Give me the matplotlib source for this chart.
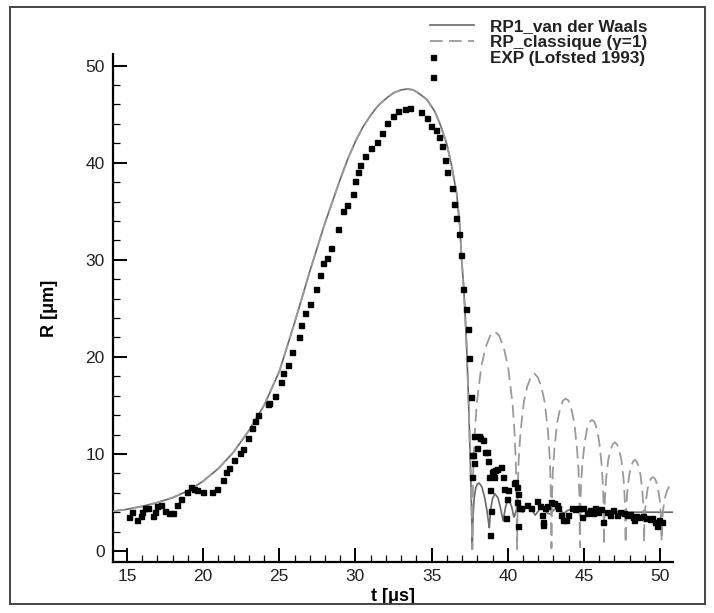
import matplotlib
matplotlib.use("Agg")
import matplotlib.pyplot as plt
from matplotlib.patches import Rectangle
from matplotlib.ticker import MultipleLocator
from matplotlib.legend_handler import HandlerLine2D
import numpy as np

plt.rcParams['font.family'] = ['Liberation Sans', 'DejaVu Sans']

# ---- RP1_van der Waals (solid) ----
vdw_t = [14.08, 15.0, 16.0, 17.0, 18.0, 19.0, 20.0, 21.0, 22.0, 23.0, 24.0, 25.0, 26.0, 27.0,
         28.0, 29.0, 29.5, 30.0, 30.5, 31.0, 31.5, 32.0, 32.5, 33.0, 33.4, 33.8, 34.2, 34.7,
         35.2, 35.6, 36.0, 36.3, 36.65, 36.85, 36.98, 37.1, 37.19, 37.3, 37.41, 37.5, 37.57,
         37.63, 37.67,
         37.72, 37.8, 37.9, 38.0, 38.13, 38.3, 38.5, 38.65, 38.75, 38.79, 38.83, 38.9, 39.0,
         39.16, 39.35, 39.5, 39.62, 39.7, 39.75, 39.85, 39.95, 40.1, 40.25, 40.4, 40.45,
         40.55, 40.7, 40.85, 41.0, 41.2, 41.4, 41.6, 41.8, 42.0, 42.2, 42.4, 42.6, 42.8,
         43.0, 43.2, 43.45, 43.7, 43.95, 44.2, 44.5, 44.8, 45.1, 45.5, 46.0, 47.0, 48.0,
         49.0, 50.0, 50.83]
vdw_r = [4.1, 4.3, 4.6, 5.0, 5.5, 6.2, 7.2, 8.5, 10.2, 12.4, 15.0, 18.5, 23.5, 28.8,
         33.8, 38.3, 40.4, 42.2, 43.7, 44.9, 45.9, 46.6, 47.2, 47.5, 47.6, 47.5, 47.1, 46.5,
         45.3, 43.8, 41.9, 39.8, 36.8, 33.5, 29.9, 27.3, 24.8, 21.0, 16.2, 11.5, 7.6,
         4.0, 0.2,
         3.5, 5.5, 6.5, 6.9, 7.0, 6.6, 5.4, 4.0, 2.8, 2.4, 3.3, 4.5, 5.4,
         5.9, 5.5, 4.6, 3.7, 3.1, 3.6, 4.5, 5.0, 5.2, 4.6, 3.5, 3.6,
         4.2, 4.6, 4.5, 4.0, 4.6, 4.7, 4.2, 3.7, 4.1, 4.5, 4.4, 3.9, 3.8,
         4.2, 4.4, 4.1, 3.9, 4.2, 4.3, 4.0, 4.0, 4.2, 4.1, 4.05, 4.05, 4.0,
         4.0, 4.0, 4.0]

# ---- RP_classique (gamma=1) (dashed), rebounds after first collapse ----
cls_t = [37.67, 37.73, 37.82, 37.96, 38.26, 38.55, 38.85, 39.14, 39.43, 39.73, 40.02, 40.32, 40.46, 40.55, 40.61,
         40.66, 40.72, 40.84, 41.06, 41.29, 41.51, 41.74, 41.97, 42.19, 42.42, 42.64, 42.76, 42.82, 42.87,
         42.91, 42.96, 43.06, 43.24, 43.43, 43.62, 43.81, 43.99, 44.18, 44.37, 44.55, 44.65, 44.70, 44.74,
         44.77, 44.82, 44.90, 45.06, 45.21, 45.37, 45.53, 45.69, 45.85, 46.00, 46.16, 46.24, 46.29, 46.32,
         46.35, 46.39, 46.46, 46.60, 46.75, 46.89, 47.03, 47.17, 47.31, 47.46, 47.60, 47.67, 47.71, 47.74,
         47.76, 47.80, 47.86, 47.98, 48.10, 48.22, 48.35, 48.47, 48.59, 48.71, 48.83, 48.89, 48.93, 48.95,
         48.97, 49.01, 49.07, 49.18, 49.30, 49.41, 49.53, 49.64, 49.76, 49.87, 49.99, 50.04, 50.08, 50.10,
         50.12, 50.16, 50.22, 50.34, 50.46, 50.58, 50.70, 50.83]
cls_r = [0.2, 8.1, 11.8, 15.1, 19.0, 21.0, 22.2, 22.6, 22.2, 21.0, 19.0, 15.1, 11.8, 8.1, 0.2,
         6.6, 9.5, 12.3, 15.4, 17.0, 17.9, 18.3, 17.9, 17.0, 15.4, 12.3, 9.5, 6.6, 0.3,
         5.7, 8.2, 10.5, 13.2, 14.6, 15.5, 15.7, 15.5, 14.6, 13.2, 10.5, 8.2, 5.7, 0.4,
         4.9, 7.0, 9.0, 11.3, 12.6, 13.3, 13.5, 13.3, 12.6, 11.3, 9.0, 7.0, 4.9, 0.6,
         4.0, 5.8, 7.5, 9.4, 10.4, 11.0, 11.2, 11.0, 10.4, 9.4, 7.5, 5.8, 4.0, 0.8,
         3.4, 4.9, 6.3, 7.9, 8.7, 9.2, 9.4, 9.2, 8.7, 7.9, 6.3, 4.9, 3.4, 0.9,
         2.7, 4.0, 5.1, 6.4, 7.1, 7.5, 7.6, 7.5, 7.1, 6.4, 5.1, 4.0, 2.7, 1.0,
         2.4, 3.5, 4.5, 5.6, 6.2, 6.6, 6.7, 6.6]

# ---- EXP (Lofsted 1993) ----
exp_t = [15.15, 15.3, 15.68, 15.9, 16.0, 16.2, 16.4, 16.7, 16.84, 17.0, 17.2, 17.5, 17.78, 18.0,
         18.26, 18.52, 18.92, 19.18, 19.4, 19.62, 20.0, 20.6, 20.93, 21.28, 21.5, 21.72, 22.05,
         22.42, 22.6, 22.97, 23.19, 23.4, 23.62, 24.24, 24.35, 24.72, 25.09, 25.22, 25.55, 25.86,
         26.29, 26.43, 26.71, 27.0, 27.41, 27.67, 27.85, 28.11, 28.39, 28.88, 29.2, 29.42, 29.82,
         29.97, 30.19, 30.3, 30.63, 31.0, 31.39, 31.72, 32.09, 32.49, 32.81, 33.25, 33.58, 34.28,
         34.68, 34.96, 35.11, 35.29, 35.51, 35.66, 35.88, 36.03, 36.36, 36.49, 36.58, 36.8, 36.93,
         37.08, 37.26, 37.37, 37.46, 37.59, 37.63, 37.66,
         37.72, 37.8, 37.8, 37.96, 38.13, 38.18, 38.4, 38.5, 38.62, 38.72, 38.79, 38.84, 38.88,
         38.85, 38.94, 39.01, 39.1, 39.16, 39.27, 39.54, 39.71, 39.75, 39.93, 39.89, 40.04, 40.41,
         40.48, 40.59, 40.59, 40.7, 40.7, 40.76, 40.9, 41.28, 41.55, 41.9, 42.12, 42.23, 42.3,
         42.34, 42.45, 42.56, 42.82, 43.04, 43.26, 43.32, 43.48, 43.6, 43.83, 43.98, 44.2, 44.42,
         44.6, 44.85, 44.96, 45.22, 45.4, 45.57, 45.72, 45.94, 46.1, 46.27, 46.5, 46.72, 46.93,
         47.15, 47.37, 47.63, 47.85, 48.05, 48.2, 48.28, 48.45, 48.64, 48.86, 49.1, 49.33, 49.5,
         49.67, 49.78, 49.95, 50.1]
exp_r = [3.5, 4.0, 3.2, 3.6, 4.0, 4.4, 4.4, 3.6, 4.0, 4.6, 4.7, 4.1, 3.9, 3.9,
         4.7, 5.4, 6.1, 6.6, 6.4, 6.3, 6.1, 6.1, 6.4, 7.3, 8.1, 8.6, 9.4,
         10.1, 10.5, 11.6, 12.7, 13.4, 14.0, 15.1, 15.3, 16.0, 17.4, 18.3, 19.2, 20.5,
         22.0, 23.3, 24.5, 25.4, 27.0, 28.4, 29.7, 30.2, 31.2, 33.2, 35.0, 35.6, 36.8,
         38.1, 39.0, 39.8, 40.7, 41.5, 42.1, 43.1, 44.1, 44.8, 45.3, 45.5, 45.6, 45.2,
         44.6, 43.8, 48.8, 43.4, 42.6, 41.7, 40.3, 39.0, 37.4, 35.7, 34.3, 32.7, 30.5,
         27.0, 24.9, 22.9, 19.9, 15.9, 9.9, 7.6,
         9.9, 11.8, 9.1, 10.6, 11.8, 11.6, 11.4, 10.2, 10.2, 9.3, 7.6, 6.3, 4.1,
         1.7, 8.1, 8.2, 7.6, 8.3, 8.4, 8.7, 7.6, 6.4, 5.4, 3.4, 6.3, 7.0,
         7.1, 6.6, 5.1, 5.9, 2.6, 4.4, 4.4, 4.7, 4.4, 5.2, 4.6, 3.7, 3.0,
         2.7, 4.4, 4.6, 5.0, 4.9, 4.7, 4.4, 3.7, 3.2, 3.2, 3.7, 4.4, 4.3,
         4.4, 3.5, 4.4, 3.9, 4.2, 3.9, 4.4, 4.0, 4.3, 3.0, 4.0, 3.7, 4.2,
         3.7, 4.0, 3.9, 3.7, 3.8, 3.5, 3.2, 3.6, 3.5, 3.6, 3.4, 3.3, 3.4,
         3.0, 2.6, 3.2, 3.0]

labels = ["RP1_van der Waals", "RP_classique (\u03b3=1)", "EXP (Lofsted 1993)"]


class LeftMarkerHandler(HandlerLine2D):
    """Single legend marker drawn at the left end of the handle box."""
    def get_xdata(self, legend, xdescent, ydescent, width, height, fontsize):
        x0 = -xdescent + 2.5
        return np.array([x0, x0]), np.array([x0])


fig = plt.figure(figsize=(7.14, 6.13), dpi=100)
ax = fig.add_axes([113/714, 1-562/613, (672.7-113)/714, (562-54)/613])

ax.plot(vdw_t, vdw_r, color='#6a6a6a', lw=1.2, label=labels[0], zorder=2)
ax.plot(vdw_t[:43] + cls_t, vdw_r[:43] + cls_r, color='#9a9a9a', lw=1.3,
        dashes=(7, 3.5), label=labels[1], zorder=3)
exp_line, = ax.plot(exp_t, exp_r, ls='none', marker='s', ms=3.6, color='black', mec='black',
                    label=labels[2], zorder=4)

ax.set_xlim(14.08, 50.83)
ax.set_ylim(-1.13, 51.2)
ax.xaxis.set_major_locator(MultipleLocator(5))
ax.xaxis.set_minor_locator(MultipleLocator(1))
ax.yaxis.set_major_locator(MultipleLocator(10))
ax.yaxis.set_minor_locator(MultipleLocator(2))
for s in ['top', 'right']:
    ax.spines[s].set_visible(False)
for s in ['left', 'bottom']:
    ax.spines[s].set_linewidth(1.6)
ax.tick_params(which='major', direction='in', length=10, width=1.4, labelsize=12.5, pad=6,
               colors='black', labelcolor='#222222')
ax.tick_params(which='minor', direction='in', length=5, width=0.9)
ax.tick_params(axis='x', which='major', pad=5)

ax.set_xlabel("t [\u03bcs]", fontsize=13, fontweight='bold', labelpad=3)
ax.set_ylabel("R [\u03bcm]", fontsize=13, fontweight='bold', labelpad=20)

leg = ax.legend(loc='upper left', bbox_to_anchor=(430/714, 1-19/613),
                bbox_transform=fig.transFigure, frameon=False,
                prop={'weight': 'bold', 'size': 12.3}, handlelength=2.6,
                handletextpad=0.9, labelspacing=0.05, borderpad=0, borderaxespad=0,
                handler_map={exp_line: LeftMarkerHandler(numpoints=1)})
for txt in leg.get_texts():
    txt.set_color('#222222')

fig.patches.append(Rectangle((10/714, 1-604/613), 695/714, 597/613,
                             transform=fig.transFigure, fill=False,
                             edgecolor='#444444', lw=1.4))

fig.savefig("out.png", dpi=100)
